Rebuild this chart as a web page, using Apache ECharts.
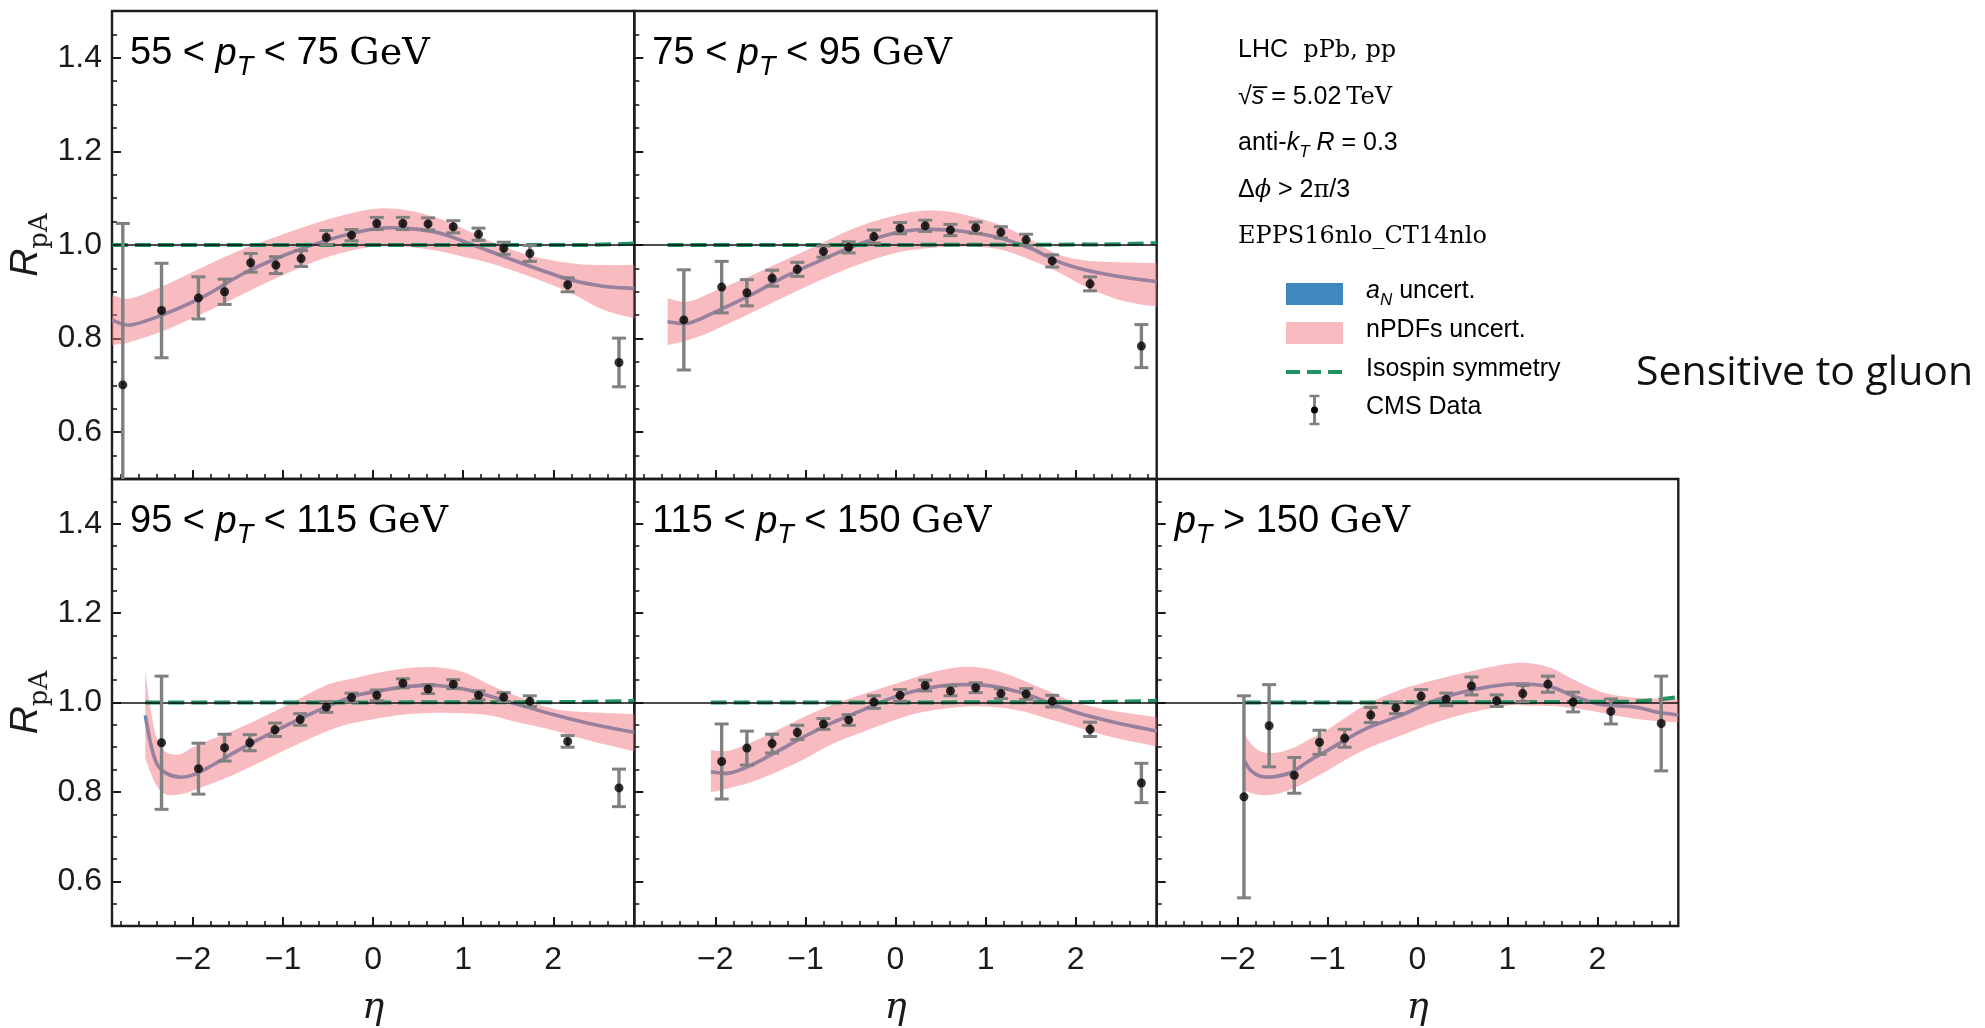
<!DOCTYPE html>
<html>
<head>
<meta charset="utf-8">
<script src="https://cdn.jsdelivr.net/npm/echarts@6/dist/echarts.min.js"></script>
<style>
  html, body { margin: 0; padding: 0; background: #ffffff; }
  #chart { width: 1985px; height: 1028px; }
</style>
</head>
<body>
<div id="chart"></div>
<script>
// ---------------- CMS data: eta bin centres, R_pA, total uncertainty ----------------
const eta1 = [-2.78, -2.35, -1.94, -1.65, -1.36, -1.08, -0.80, -0.52, -0.24, 0.04, 0.33, 0.61, 0.89, 1.17, 1.45, 1.74, 2.16, 2.73];
const r1   = [0.701, 0.860, 0.887, 0.900, 0.962, 0.957, 0.971, 1.016, 1.021, 1.046, 1.046, 1.045, 1.039, 1.023, 0.993, 0.982, 0.915, 0.749];
const e1   = [0.345, 0.101, 0.045, 0.027, 0.020, 0.018, 0.017, 0.015, 0.012, 0.013, 0.013, 0.013, 0.013, 0.013, 0.013, 0.017, 0.015, 0.052];

const eta2 = [-2.35, -1.93, -1.65, -1.37, -1.09, -0.80, -0.52, -0.24, 0.05, 0.33, 0.61, 0.89, 1.17, 1.45, 1.74, 2.16, 2.73];
const r2   = [0.840, 0.910, 0.898, 0.929, 0.948, 0.986, 0.995, 1.018, 1.036, 1.041, 1.032, 1.037, 1.027, 1.011, 0.966, 0.917, 0.784];
const e2   = [0.107, 0.055, 0.028, 0.017, 0.015, 0.012, 0.012, 0.014, 0.012, 0.012, 0.012, 0.012, 0.012, 0.012, 0.013, 0.015, 0.046];

const eta3 = [-2.35, -1.94, -1.65, -1.37, -1.09, -0.81, -0.52, -0.24, 0.04, 0.33, 0.61, 0.89, 1.17, 1.45, 1.74, 2.16, 2.73];
const r3   = [0.910, 0.852, 0.899, 0.910, 0.939, 0.962, 0.990, 1.011, 1.016, 1.043, 1.030, 1.041, 1.016, 1.012, 1.003, 0.913, 0.809];
const e3   = [0.149, 0.057, 0.030, 0.018, 0.015, 0.013, 0.012, 0.010, 0.012, 0.010, 0.010, 0.010, 0.010, 0.010, 0.012, 0.013, 0.042];

const eta4 = [-1.93, -1.65, -1.37, -1.09, -0.80, -0.52, -0.24, 0.05, 0.33, 0.61, 0.89, 1.17, 1.45, 1.74, 2.16, 2.73];
const r4   = [0.868, 0.898, 0.908, 0.933, 0.952, 0.961, 1.001, 1.016, 1.038, 1.026, 1.033, 1.020, 1.019, 1.003, 0.940, 0.820];
const e4   = [0.084, 0.038, 0.021, 0.016, 0.012, 0.012, 0.014, 0.013, 0.012, 0.011, 0.011, 0.011, 0.012, 0.013, 0.016, 0.044];

const eta5 = [-1.93, -1.65, -1.37, -1.09, -0.81, -0.52, -0.24, 0.04, 0.32, 0.60, 0.88, 1.17, 1.45, 1.73, 2.15, 2.71];
const r5   = [0.789, 0.948, 0.837, 0.911, 0.920, 0.972, 0.988, 1.014, 1.007, 1.037, 1.004, 1.020, 1.041, 1.001, 0.980, 0.953];
const e5   = [0.226, 0.092, 0.040, 0.027, 0.020, 0.017, 0.013, 0.015, 0.014, 0.020, 0.013, 0.018, 0.018, 0.022, 0.028, 0.106];

// ---------------- EPPS16 prediction: central value and nPDF envelope ----------------
const th1Eta = [-2.9, -2.7, -2.35, -1.9, -1.45, -1.0, -0.5, 0.0, 0.35, 0.7, 1.0, 1.3, 1.75, 2.2, 2.55, 2.9];
const th1Mid = [0.840, 0.829, 0.850, 0.888, 0.938, 0.977, 1.011, 1.034, 1.036, 1.027, 1.008, 0.986, 0.954, 0.925, 0.912, 0.907];
const th1Lo  = [0.786, 0.793, 0.815, 0.853, 0.895, 0.936, 0.975, 0.997, 0.997, 0.988, 0.975, 0.961, 0.932, 0.897, 0.862, 0.843];
const th1Hi  = [0.893, 0.886, 0.911, 0.952, 0.991, 1.023, 1.055, 1.077, 1.075, 1.059, 1.035, 1.008, 0.977, 0.961, 0.957, 0.957];

const th2Eta = [-2.53, -2.3, -2.0, -1.6, -1.2, -0.8, -0.4, 0.0, 0.3, 0.6, 0.9, 1.2, 1.5, 1.8, 2.1, 2.5, 2.9];
const th2Mid = [0.836, 0.833, 0.857, 0.894, 0.935, 0.970, 1.002, 1.026, 1.033, 1.032, 1.025, 1.013, 0.993, 0.965, 0.947, 0.932, 0.922];
const th2Lo  = [0.786, 0.797, 0.819, 0.855, 0.892, 0.928, 0.959, 0.983, 0.992, 0.996, 0.996, 0.989, 0.968, 0.943, 0.912, 0.882, 0.868];
const th2Hi  = [0.886, 0.879, 0.902, 0.935, 0.970, 1.006, 1.040, 1.063, 1.073, 1.071, 1.058, 1.040, 1.012, 0.980, 0.967, 0.963, 0.961];

const th3Eta = [-2.53, -2.47, -2.4, -2.3, -2.15, -2.0, -1.8, -1.5, -1.2, -0.9, -0.5, -0.2, 0.1, 0.4, 0.7, 1.0, 1.3, 1.6, 2.0, 2.4, 2.9];
const th3Mid = [0.971, 0.907, 0.862, 0.842, 0.833, 0.838, 0.858, 0.893, 0.925, 0.955, 0.992, 1.015, 1.027, 1.036, 1.038, 1.030, 1.014, 0.996, 0.973, 0.953, 0.933];
const th3Lo  = [0.875, 0.843, 0.812, 0.794, 0.794, 0.803, 0.818, 0.843, 0.872, 0.901, 0.937, 0.955, 0.966, 0.974, 0.977, 0.976, 0.971, 0.956, 0.938, 0.915, 0.891];
const th3Hi  = [1.070, 0.983, 0.918, 0.889, 0.884, 0.900, 0.917, 0.942, 0.970, 1.000, 1.040, 1.055, 1.068, 1.077, 1.079, 1.068, 1.039, 1.014, 0.986, 0.978, 0.974];

const th4Eta = [-2.05, -1.85, -1.6, -1.3, -1.0, -0.7, -0.4, -0.1, 0.2, 0.5, 0.8, 1.1, 1.4, 1.7, 2.0, 2.4, 2.9];
const th4Mid = [0.845, 0.842, 0.860, 0.892, 0.925, 0.955, 0.980, 1.006, 1.025, 1.037, 1.040, 1.036, 1.022, 1.000, 0.978, 0.957, 0.936];
const th4Lo  = [0.799, 0.808, 0.822, 0.846, 0.875, 0.907, 0.931, 0.954, 0.974, 0.985, 0.991, 0.990, 0.981, 0.963, 0.946, 0.923, 0.902];
const th4Hi  = [0.894, 0.892, 0.911, 0.939, 0.969, 0.995, 1.016, 1.036, 1.055, 1.072, 1.080, 1.072, 1.051, 1.025, 1.000, 0.982, 0.967];

const th5Eta = [-1.92, -1.86, -1.75, -1.6, -1.4, -1.2, -1.0, -0.6, -0.2, 0.2, 0.6, 1.0, 1.25, 1.5, 1.7, 2.0, 2.2, 2.45, 2.67, 2.9];
const th5Mid = [0.868, 0.849, 0.835, 0.834, 0.844, 0.870, 0.893, 0.939, 0.970, 1.005, 1.028, 1.041, 1.041, 1.034, 1.017, 0.997, 0.993, 0.989, 0.978, 0.972];
const th5Lo  = [0.803, 0.798, 0.793, 0.794, 0.806, 0.826, 0.848, 0.893, 0.925, 0.955, 0.978, 0.993, 0.993, 0.992, 0.988, 0.979, 0.971, 0.963, 0.958, 0.955];
const th5Hi  = [0.929, 0.910, 0.891, 0.887, 0.897, 0.918, 0.939, 0.992, 1.028, 1.051, 1.070, 1.086, 1.088, 1.076, 1.055, 1.027, 1.016, 1.010, 1.009, 1.007];

// ---------------- isospin-symmetric reference curve ----------------
const iso1Eta = [-2.9, 2.3, 2.9];   const iso1 = [1.000, 1.000, 1.003];
const iso2Eta = [-2.53, 2.3, 2.9];  const iso2 = [1.000, 1.001, 1.004];
const iso3Eta = [-2.53, 2.3, 2.9];  const iso3 = [1.000, 1.001, 1.004];
const iso4Eta = [-2.05, 2.3, 2.9];  const iso4 = [1.000, 1.001, 1.004];
const iso5Eta = [-1.92, 2.4, 2.9];  const iso5 = [1.000, 1.002, 1.012];

// ---------------- panel captions and axis ticks ----------------
const ptBins = [['55 < ', ' < 75 '], ['75 < ', ' < 95 '], ['95 < ', ' < 115 '], ['115 < ', ' < 150 '], ['', ' > 150 ']];
const xTicks = [-2, -1, 0, 1, 2];
const yTicks = [0.6, 0.8, 1.0, 1.2, 1.4];
const xRange = [-2.9, 2.9];
const yRange = [0.5, 1.5];

const xMinor = [];
for (let k = -14; k <= 14; k++) xMinor.push(+(k * 0.2).toFixed(1));
const yMinor = [];
for (let k = 11; k <= 29; k++) yMinor.push(+(k * 0.05).toFixed(2));

// ---------------- layout ----------------
const SANS = 'Liberation Sans';
const SERIF = 'DejaVu Serif';
const INK = '#1a1a1a';
const PINK = 'rgba(242,120,128,0.5)';
const BLUE = '#3f88bf';
const GREEN = '#1f9460';

const grids = [
  { left: 112,    top: 11,  width: 522.3, height: 468 },
  { left: 634.3,  top: 11,  width: 522.4, height: 468 },
  { left: 112,    top: 479, width: 522.3, height: 467 },
  { left: 634.3,  top: 479, width: 522.4, height: 467 },
  { left: 1156.7, top: 479, width: 521.6, height: 467 }
];
const bottomRow = [false, false, true, true, true];
const leftCol = [true, false, true, false, false];

const panels = [
  { eta: eta1, r: r1, e: e1, tEta: th1Eta, tMid: th1Mid, tLo: th1Lo, tHi: th1Hi, iEta: iso1Eta, iso: iso1 },
  { eta: eta2, r: r2, e: e2, tEta: th2Eta, tMid: th2Mid, tLo: th2Lo, tHi: th2Hi, iEta: iso2Eta, iso: iso2 },
  { eta: eta3, r: r3, e: e3, tEta: th3Eta, tMid: th3Mid, tLo: th3Lo, tHi: th3Hi, iEta: iso3Eta, iso: iso3 },
  { eta: eta4, r: r4, e: e4, tEta: th4Eta, tMid: th4Mid, tLo: th4Lo, tHi: th4Hi, iEta: iso4Eta, iso: iso4 },
  { eta: eta5, r: r5, e: e5, tEta: th5Eta, tMid: th5Mid, tLo: th5Lo, tHi: th5Hi, iEta: iso5Eta, iso: iso5 }
];

// Catmull-Rom spline through pixel points, as cubic Bezier path commands
function splineSegs(pts) {
  let d = '';
  for (let i = 0; i < pts.length - 1; i++) {
    const p0 = pts[i - 1] || pts[i], p1 = pts[i], p2 = pts[i + 1], p3 = pts[i + 2] || p2;
    const t = 1 / 6;
    const c1x = p1[0] + (p2[0] - p0[0]) * t, c1y = p1[1] + (p2[1] - p0[1]) * t;
    const c2x = p2[0] - (p3[0] - p1[0]) * t, c2y = p2[1] - (p3[1] - p1[1]) * t;
    d += ' C' + c1x + ',' + c1y + ' ' + c2x + ',' + c2y + ' ' + p2[0] + ',' + p2[1];
  }
  return d;
}

const xAxes = [], yAxes = [], series = [];
const minusFmt = v => (v < 0 ? '\u2212' : '') + Math.abs(v);
const TICK_FONT = 32;

grids.forEach((g, i) => {
  const tickStyle = { color: INK, width: 2 };
  // major ticks / labels
  xAxes.push({
    type: 'value', gridIndex: i, min: xRange[0], max: xRange[1], position: 'bottom',
    axisLine: { show: false, onZero: false },
    axisTick: { show: true, inside: true, length: 9, lineStyle: tickStyle, customValues: xTicks },
    axisLabel: { show: bottomRow[i], customValues: xTicks, formatter: minusFmt, fontFamily: SANS, fontSize: TICK_FONT, color: INK, margin: 18 },
    splitLine: { show: false },
    name: bottomRow[i] ? '\u03b7' : '', nameLocation: 'middle', nameGap: 64,
    nameTextStyle: { fontFamily: SERIF, fontStyle: 'italic', fontSize: 37, color: INK }
  });
  // minor ticks
  xAxes.push({
    type: 'value', gridIndex: i, min: xRange[0], max: xRange[1], position: 'bottom',
    axisLine: { show: false, onZero: false },
    axisTick: { show: true, inside: true, length: 5, lineStyle: { color: INK, width: 1.6 }, customValues: xMinor },
    axisLabel: { show: false }, splitLine: { show: false }
  });
  yAxes.push({
    type: 'value', gridIndex: i, min: yRange[0], max: yRange[1], position: 'left',
    axisLine: { show: false, onZero: false },
    axisTick: { show: true, inside: true, length: 9, lineStyle: tickStyle, customValues: yTicks },
    axisLabel: { show: leftCol[i], customValues: yTicks, formatter: v => v.toFixed(1), fontFamily: SANS, fontSize: TICK_FONT, color: INK, margin: 10 },
    splitLine: { show: false },
    name: leftCol[i] ? '{r|R}{s|pA}' : '', nameLocation: 'middle', nameRotate: 90, nameGap: 53,
    nameTextStyle: {
      rich: {
        r: { fontFamily: SANS, fontStyle: 'italic', fontSize: 39, color: INK, verticalAlign: 'bottom', padding: [0, 0, 8, 0] },
        s: { fontFamily: SERIF, fontSize: 26, color: INK, verticalAlign: 'bottom' }
      }
    }
  });
  yAxes.push({
    type: 'value', gridIndex: i, min: yRange[0], max: yRange[1], position: 'left',
    axisLine: { show: false, onZero: false },
    axisTick: { show: true, inside: true, length: 5, lineStyle: { color: INK, width: 1.6 }, customValues: yMinor },
    axisLabel: { show: false }, splitLine: { show: false }
  });

  const p = panels[i];
  const xi = 2 * i, yi = 2 * i;

  // a_N uncertainty (narrow blue band, seen as the central curve)
  series.push({
    type: 'custom', name: 'aN', xAxisIndex: xi, yAxisIndex: yi, z: 1, silent: true,
    data: p.tEta.map((e, k) => [e, p.tMid[k]]),
    encode: { x: 0, y: 1 },
    renderItem: (params, api) => {
      if (params.dataIndex !== 0) return null;
      const pts = p.tEta.map((e, k) => api.coord([e, p.tMid[k]]));
      const d = 'M' + pts[0][0] + ',' + pts[0][1] + splineSegs(pts);
      return { type: 'path', shape: { pathData: d }, style: { fill: 'none', stroke: BLUE, lineWidth: 3.6 } };
    }
  });
  // nPDF uncertainty band
  series.push({
    type: 'custom', name: 'nPDF', xAxisIndex: xi, yAxisIndex: yi, z: 2, silent: true,
    data: p.tEta.map((e, k) => [e, p.tLo[k], p.tHi[k]]),
    encode: { x: 0, y: [1, 2] },
    renderItem: (params, api) => {
      if (params.dataIndex !== 0) return null;
      const up = p.tEta.map((e, k) => api.coord([e, p.tHi[k]]));
      const dn = p.tEta.map((e, k) => api.coord([e, p.tLo[k]])).reverse();
      const d = 'M' + up[0][0] + ',' + up[0][1] + splineSegs(up) +
                ' L' + dn[0][0] + ',' + dn[0][1] + splineSegs(dn) + ' Z';
      return { type: 'path', shape: { pathData: d }, style: { fill: PINK } };
    }
  });
  // R = 1 reference line
  series.push({
    type: 'line', name: 'unity', xAxisIndex: xi, yAxisIndex: yi, z: 3, data: [], silent: true,
    markLine: {
      silent: true, symbol: 'none', animation: false, label: { show: false },
      lineStyle: { color: '#111111', width: 1.6, type: 'solid' },
      data: [{ yAxis: 1 }]
    }
  });
  // isospin symmetry
  series.push({
    type: 'line', name: 'iso', xAxisIndex: xi, yAxisIndex: yi, z: 4, silent: true,
    data: p.iEta.map((e, k) => [e, p.iso[k]]), symbol: 'none', smooth: 0.3,
    lineStyle: { color: GREEN, width: 4, type: [16, 7] }
  });
  // CMS error bars
  series.push({
    type: 'custom', name: 'err', xAxisIndex: xi, yAxisIndex: yi, z: 5, silent: true,
    data: p.eta.map((e, k) => [e, p.r[k], p.e[k]]),
    encode: { x: 0, y: 1 },
    renderItem: (params, api) => {
      const x = api.value(0), y = api.value(1), er = api.value(2);
      const hiV = Math.min(y + er, yRange[1]), loV = Math.max(y - er, yRange[0]);
      const top = api.coord([x, hiV]), bot = api.coord([x, loV]);
      const kids = [{ type: 'line', shape: { x1: top[0], y1: top[1], x2: bot[0], y2: bot[1] }, style: { stroke: '#808080', lineWidth: 3.4 } }];
      const hw = 7;
      if (y + er <= yRange[1]) kids.push({ type: 'line', shape: { x1: top[0] - hw, y1: top[1], x2: top[0] + hw, y2: top[1] }, style: { stroke: '#808080', lineWidth: 3 } });
      if (y - er >= yRange[0]) kids.push({ type: 'line', shape: { x1: bot[0] - hw, y1: bot[1], x2: bot[0] + hw, y2: bot[1] }, style: { stroke: '#808080', lineWidth: 3 } });
      return { type: 'group', children: kids };
    }
  });
  // CMS central values
  series.push({
    type: 'scatter', name: 'cms', xAxisIndex: xi, yAxisIndex: yi, z: 6, silent: true,
    data: p.eta.map((e, k) => [e, p.r[k]]), symbol: 'circle', symbolSize: 9,
    itemStyle: { color: '#000000' }
  });
});

// ---------------- text: captions, run info, legend ----------------
const richBase = (size) => ({
  n: { fontFamily: SANS, fontSize: size, color: INK, verticalAlign: 'bottom', padding: [0, 0, 8, 0] },
  i: { fontFamily: SANS, fontStyle: 'italic', fontSize: size, color: INK, verticalAlign: 'bottom', padding: [0, 0, 8, 0] },
  s: { fontFamily: SANS, fontStyle: 'italic', fontSize: Math.round(size * 0.7), color: INK, verticalAlign: 'bottom' },
  g: { fontFamily: SERIF, fontSize: size, color: INK, verticalAlign: 'bottom', padding: [0, 0, 8, 0] }
});

const graphics = [];
grids.forEach((g, i) => {
  const [a, b] = ptBins[i];
  const txt = (a ? '{n|' + a + '}' : '') + '{i|p}{s|T}{n|' + b + '}{g|GeV}';
  graphics.push({
    type: 'text', x: g.left + 18, y: g.top + 70, silent: true,
    style: { text: txt, rich: richBase(38), verticalAlign: 'bottom' }
  });
});

const infoX = 1238;
const infoRich = {
  a: { fontFamily: SANS, fontSize: 25, color: INK, verticalAlign: 'bottom', padding: [0, 0, 5, 0] },
  i: { fontFamily: SANS, fontStyle: 'italic', fontSize: 25, color: INK, verticalAlign: 'bottom', padding: [0, 0, 5, 0] },
  si: { fontFamily: SANS, fontStyle: 'italic', fontSize: 17, color: INK, verticalAlign: 'bottom' },
  b: { fontFamily: SERIF, fontSize: 24, color: INK, verticalAlign: 'bottom', padding: [0, 0, 5, 0] },
  bi: { fontFamily: SERIF, fontStyle: 'italic', fontSize: 24, color: INK, verticalAlign: 'bottom', padding: [0, 0, 5, 0] }
};
const infoLines = [
  '{a|LHC}{b|  pPb, pp}',
  '{a|\u221a}{i|s\u0305}{a| = 5.02\u2009}{b|TeV}',
  '{a|anti-}{i|k}{si|T}{i| R}{a| = 0.3}',
  '{a|\u0394}{bi|\u03d5}{a| > 2}{b|\u03c0}{a|/3}',
  '{b|EPPS16nlo_CT14nlo}'
];
infoLines.forEach((t, k) => {
  graphics.push({
    type: 'text', x: infoX, y: 68 + k * 46.5, silent: true,
    style: { text: t, rich: infoRich, verticalAlign: 'bottom' }
  });
});

// legend
const legX = 1286, legW = 57, legTextX = 1366;
const legRows = [294, 333, 372, 410];
graphics.push({ type: 'rect', silent: true, shape: { x: legX, y: legRows[0] - 11, width: legW, height: 22 }, style: { fill: BLUE } });
graphics.push({ type: 'rect', silent: true, shape: { x: legX, y: legRows[1] - 11, width: legW, height: 22 }, style: { fill: PINK } });
graphics.push({ type: 'line', silent: true, shape: { x1: legX, y1: legRows[2], x2: legX + legW, y2: legRows[2] }, style: { stroke: GREEN, lineWidth: 4, lineDash: [14, 7] } });
const ebX = legX + legW / 2;
graphics.push({ type: 'line', silent: true, shape: { x1: ebX, y1: legRows[3] - 14, x2: ebX, y2: legRows[3] + 14 }, style: { stroke: '#808080', lineWidth: 3 } });
graphics.push({ type: 'line', silent: true, shape: { x1: ebX - 5, y1: legRows[3] - 14, x2: ebX + 5, y2: legRows[3] - 14 }, style: { stroke: '#808080', lineWidth: 2.5 } });
graphics.push({ type: 'line', silent: true, shape: { x1: ebX - 5, y1: legRows[3] + 14, x2: ebX + 5, y2: legRows[3] + 14 }, style: { stroke: '#808080', lineWidth: 2.5 } });
graphics.push({ type: 'circle', silent: true, shape: { cx: ebX, cy: legRows[3], r: 3.5 }, style: { fill: '#000000' } });

const legRich = {
  a: { fontFamily: SANS, fontSize: 25, color: INK, verticalAlign: 'bottom', padding: [0, 0, 5, 0] },
  i: { fontFamily: SANS, fontStyle: 'italic', fontSize: 25, color: INK, verticalAlign: 'bottom', padding: [0, 0, 5, 0] },
  si: { fontFamily: SANS, fontStyle: 'italic', fontSize: 17, color: INK, verticalAlign: 'bottom' }
};
const legTexts = ['{i|a}{si|N}{a| uncert.}', '{a|nPDFs uncert.}', '{a|Isospin symmetry}', '{a|CMS Data}'];
legTexts.forEach((t, k) => {
  graphics.push({
    type: 'text', x: legTextX, y: legRows[k] + 15, silent: true,
    style: { text: t, rich: legRich, verticalAlign: 'bottom' }
  });
});

graphics.push({
  type: 'text', x: 1636, y: 373, silent: true,
  style: { text: 'Sensitive to gluon', fontFamily: 'Open Sans', fontSize: 41, fill: '#111111', verticalAlign: 'middle' }
});

const chart = echarts.init(document.getElementById('chart'), null, { renderer: 'canvas' });
chart.setOption({
  animation: false,
  backgroundColor: '#ffffff',
  grid: grids.map(g => Object.assign({ show: true, borderColor: '#1c1c1c', borderWidth: 2.4, backgroundColor: 'transparent', containLabel: false }, g)),
  xAxis: xAxes,
  yAxis: yAxes,
  series: series,
  graphic: graphics
});
</script>
</body>
</html>
